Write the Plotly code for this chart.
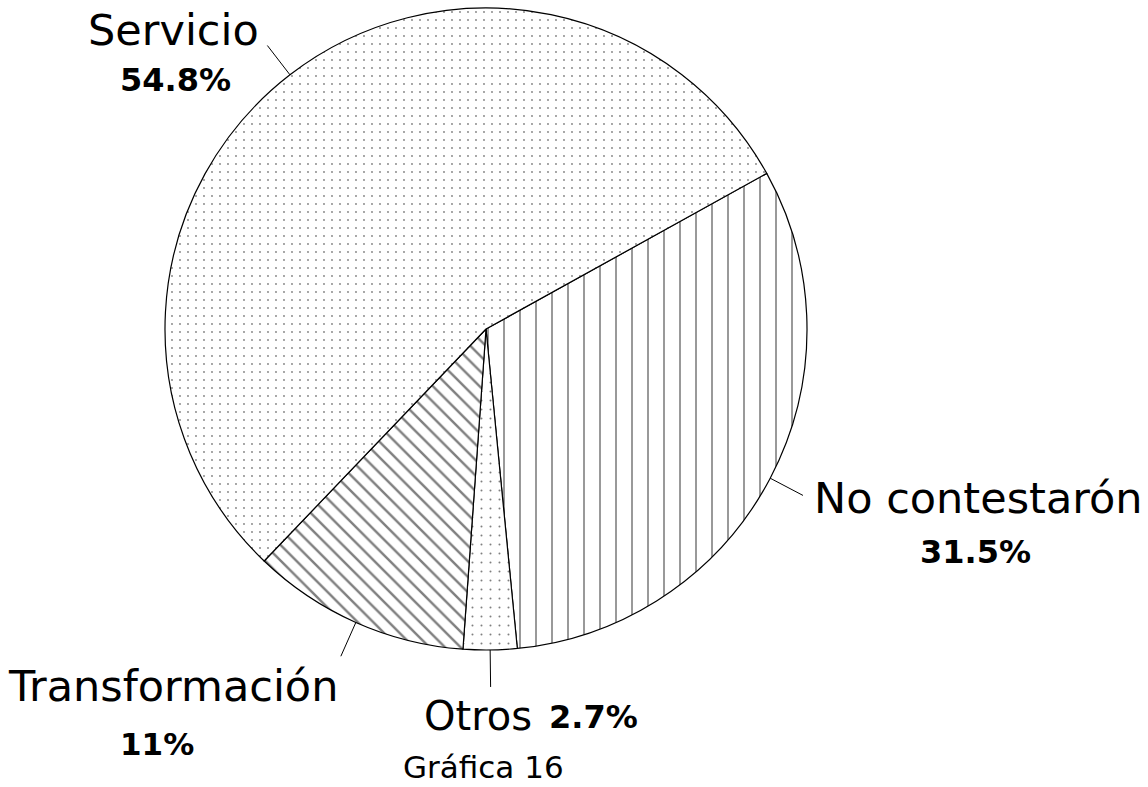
import math
import plotly.graph_objects as go

# Data
labels = ["No contestarón", "Otros", "Transformación", "Servicio"]
values = [31.5, 2.7, 11, 54.8]
pct_text = ["31.5%", "2.7%", "11%", "54.8%"]
patterns = ["|", ".", "\\", "."]
title_text = "Gráfica 16"

W, H = 1148, 787
CX, CY, R = 486, 329, 321   # pie centre / radius in pixels
ROTATION = 61               # start angle of first slice (clockwise from 12 o'clock)

FONT = "DejaVu Sans, Liberation Sans, Arial, sans-serif"

fig = go.Figure()
fig.add_trace(go.Pie(
    labels=labels,
    values=values,
    sort=False,
    direction="clockwise",
    rotation=ROTATION,
    textinfo="none",
    hoverinfo="label+percent",
    showlegend=False,
    domain=dict(x=[(CX - R) / W, (CX + R) / W], y=[1 - (CY + R) / H, 1 - (CY - R) / H]),
    marker=dict(
        colors=["white"] * 4,
        line=dict(color="black", width=1.2),
        pattern=dict(
            shape=patterns,
            fgcolor="black",
            bgcolor="white",
            size=[16, 9, 11, 8],
            solidity=[0.1, 0.04, 0.22, 0.04],
            fillmode="overlay",
        ),
    ),
))

def px2paper(x, y):
    return x / W, 1 - y / H

# leader lines at mid-angle of each slice
total = sum(values)
acc = ROTATION
shapes = []
for v in values:
    mid = acc + v / total * 360 / 2
    acc += v / total * 360
    a = math.radians(mid)
    x0, y0 = CX + R * math.sin(a), CY - R * math.cos(a)
    x1, y1 = CX + (R + 37) * math.sin(a), CY - (R + 37) * math.cos(a)
    p0 = px2paper(x0, y0)
    p1 = px2paper(x1, y1)
    shapes.append(dict(type="line", xref="paper", yref="paper",
                       x0=p0[0], y0=p0[1], x1=p1[0], y1=p1[1],
                       line=dict(color="black", width=1)))

annotations = []
def add_text(text, x, y, size, bold=False):
    px, py = px2paper(x, y)
    annotations.append(dict(
        text=f"<b>{text}</b>" if bold else text,
        x=px, y=py, xref="paper", yref="paper",
        xanchor="center", yanchor="middle", showarrow=False,
        font=dict(family=FONT, size=size, color="black"),
    ))

NAME_SIZE = 43
PCT_SIZE = 32
# Servicio
add_text(labels[3], 173, 30, NAME_SIZE)
add_text(pct_text[3], 175, 80, PCT_SIZE, bold=True)
# No contestarón
add_text(labels[0], 978, 498, NAME_SIZE)
add_text(pct_text[0], 975, 552, PCT_SIZE, bold=True)
# Transformación
add_text(labels[2], 173, 686, NAME_SIZE)
add_text(pct_text[2], 157, 744, 31, bold=True)
# Otros
add_text(labels[1], 478, 716, 40)
add_text(pct_text[1], 593, 717, PCT_SIZE, bold=True)
# caption
add_text(title_text, 483, 767, 31)

fig.update_layout(
    width=W, height=H,
    margin=dict(l=0, r=0, t=0, b=0),
    paper_bgcolor="white",
    plot_bgcolor="white",
    shapes=shapes,
    annotations=annotations,
)

fig.write_html("out.html", config={"displayModeBar": False},
               post_script="document.body.style.margin='0';")
